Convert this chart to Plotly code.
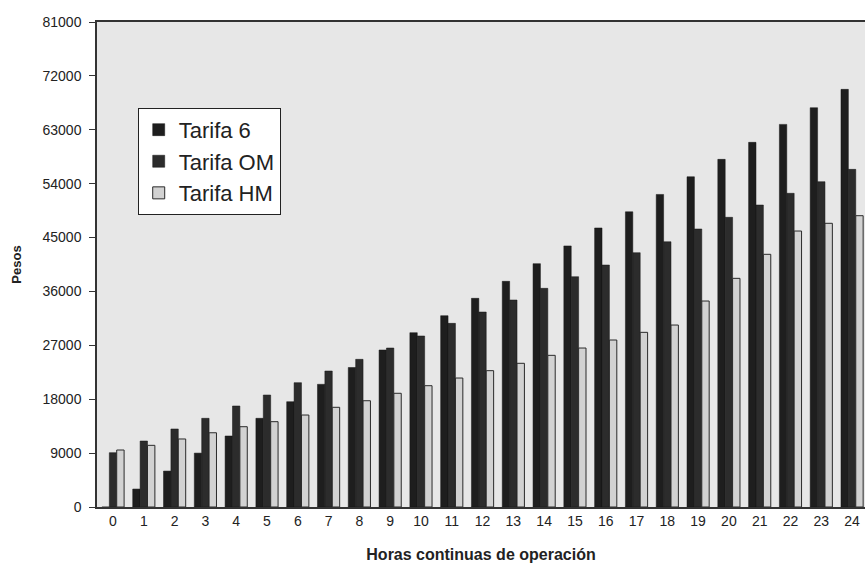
import plotly.graph_objects as go

# Hours of continuous operation (x categories)
horas = list(range(25))

# Cost in pesos for each tariff
tarifa_6 = [0, 3000, 6000, 9000, 11860, 14810, 17590, 20490, 23300, 26220,
            29110, 31950, 34850, 37690, 40640, 43600, 46600, 49300, 52200, 55150,
            58060, 60900, 63900, 66680, 69750]
tarifa_om = [9070, 11020, 13030, 14810, 16870, 18700, 20760, 22710, 24660, 26550,
             28560, 30670, 32560, 34570, 36520, 38460, 40410, 42470, 44300, 46430,
             48380, 50430, 52390, 54330, 56390]
tarifa_hm = [9520, 10300, 11360, 12400, 13410, 14250, 15360, 16650, 17750, 18990,
             20260, 21540, 22770, 24000, 25330, 26550, 27890, 29170, 30390, 34400,
             38190, 42200, 46090, 47380, 48650]

y_ticks = list(range(0, 81001, 9000))

FONT = "Liberation Sans, Arial, sans-serif"
TEXT = "#222222"

fig = go.Figure()
fig.add_trace(go.Bar(x=horas, y=tarifa_6, name="Tarifa 6",
                     marker=dict(color="#1e1e1e", line=dict(color="#151515", width=0.5))))
fig.add_trace(go.Bar(x=horas, y=tarifa_om, name="Tarifa OM",
                     marker=dict(color="#2c2c2c", line=dict(color="#151515", width=0.5))))
fig.add_trace(go.Bar(x=horas, y=tarifa_hm, name="Tarifa HM",
                     marker=dict(color="#d2d2d2", line=dict(color="#2a2a2a", width=1))))

fig.update_layout(
    width=865, height=571,
    margin=dict(l=97, r=0, t=22, b=64, autoexpand=False),
    paper_bgcolor="white",
    plot_bgcolor="#e7e7e7",
    barmode="group",
    bargap=0.28,
    bargroupgap=0,
    font=dict(family=FONT, color=TEXT, size=14),
    showlegend=True,
    legend=dict(
        x=0.053, y=0.823, xanchor="left", yanchor="top",
        bgcolor="white", bordercolor="#222222", borderwidth=1,
        font=dict(family=FONT, size=22, color=TEXT),
        tracegroupgap=0,
    ),
)

fig.update_xaxes(
    type="linear",
    range=[-0.52, 24.42],
    tickmode="array", tickvals=horas, ticktext=[str(h) for h in horas],
    showline=True, linecolor="#333333", linewidth=1.5, mirror=True,
    ticks="", showgrid=False, zeroline=False,
    tickfont=dict(family=FONT, size=14, color=TEXT),
    title=dict(text="<b>Horas continuas de operación</b>", standoff=21,
               font=dict(family=FONT, size=16, color=TEXT)),
)

fig.update_yaxes(
    range=[0, 81000],
    tickmode="array", tickvals=y_ticks, ticktext=[str(v) for v in y_ticks],
    showline=True, linecolor="#333333", linewidth=1.5, mirror=False,
    ticks="outside", ticklen=6, tickcolor="#333333",
    ticklabelstandoff=5,
    showgrid=False, zeroline=False,
    tickfont=dict(family=FONT, size=14, color=TEXT),
    title=dict(text="<b>Pesos</b>", standoff=18,
               font=dict(family=FONT, size=13, color=TEXT)),
)

fig.write_html("out.html")
